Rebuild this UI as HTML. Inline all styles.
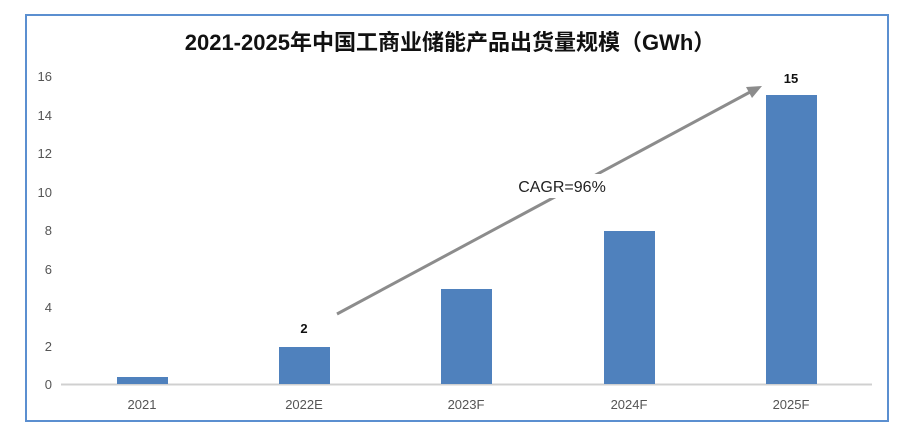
<!DOCTYPE html>
<html><head><meta charset="utf-8">
<style>
html,body{margin:0;padding:0;background:#fff;}
svg{display:block;}
text{font-family:"Liberation Sans","Noto Sans CJK SC",sans-serif;}
</style></head>
<body>
<svg width="900" height="442" viewBox="0 0 900 442" xmlns="http://www.w3.org/2000/svg">
<rect x="0" y="0" width="900" height="442" fill="#fff"/>
<rect x="26" y="15" width="862" height="406" fill="#fff" stroke="#5b8fd0" stroke-width="2"/>
<text x="450" y="50" text-anchor="middle" font-size="22" font-weight="bold" fill="#111" font-family="'Noto Sans CJK SC',sans-serif">2021-2025年中国工商业储能产品出货量规模（GWh）</text>
<g font-size="13" fill="#555" text-anchor="end">
<text x="52" y="81">16</text>
<text x="52" y="120">14</text>
<text x="52" y="158">12</text>
<text x="52" y="197">10</text>
<text x="52" y="235">8</text>
<text x="52" y="274">6</text>
<text x="52" y="312">4</text>
<text x="52" y="351">2</text>
<text x="52" y="389">0</text>
</g>
<line x1="61" y1="384.5" x2="872" y2="384.5" stroke="#d0d0d0" stroke-width="2"/>
<g fill="#4f81bd">
<rect x="117" y="377" width="51" height="7"/>
<rect x="279" y="347" width="51" height="37"/>
<rect x="441" y="289" width="51" height="95"/>
<rect x="604" y="231" width="51" height="153"/>
<rect x="766" y="95" width="51" height="289"/>
</g>
<g font-size="13" fill="#555" text-anchor="middle">
<text x="142" y="409">2021</text>
<text x="304" y="409">2022E</text>
<text x="466" y="409">2023F</text>
<text x="629" y="409">2024F</text>
<text x="791" y="409">2025F</text>
</g>
<g font-size="13" font-weight="bold" fill="#111" text-anchor="middle">
<text x="304" y="333">2</text>
<text x="791" y="83">15</text>
</g>
<line x1="337" y1="314" x2="752" y2="91" stroke="#8c8c8c" stroke-width="3"/>
<polygon points="762,86 746,87 752,98" fill="#8c8c8c"/>
<rect x="516" y="174" width="92" height="24" fill="#fff"/>
<text x="562" y="192" text-anchor="middle" font-size="16" fill="#222">CAGR=96%</text>
</svg>
</body></html>
